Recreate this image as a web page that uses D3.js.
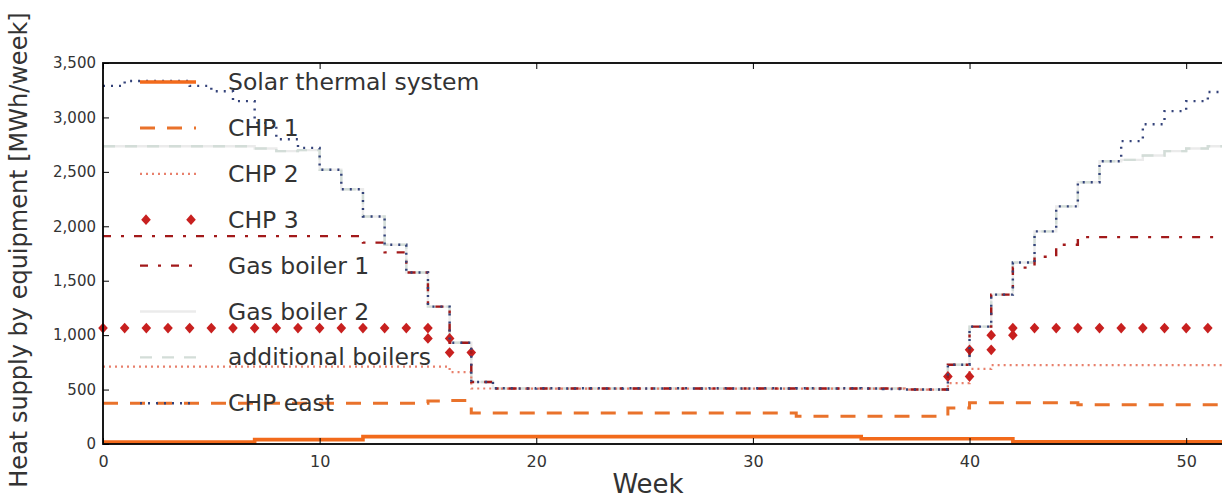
<!DOCTYPE html>
<html>
<head>
<meta charset="utf-8">
<script src="https://cdn.jsdelivr.net/npm/d3@7"></script>
<style>
  body { margin: 0; background: #fff; }
  svg { display: block; font-family: "DejaVu Sans", sans-serif; }
</style>
</head>
<body>
<svg id="chart"></svg>
<script>
const WIDTH = 1222;
const HEIGHT = 498;

// weeks 0..52, values are cumulative heat supply (MWh/week)
const weeks = d3.range(0, 53);
const seriesNames = ["Solar thermal system", "CHP 1", "CHP 2", "CHP 3",
  "Gas boiler 1", "Gas boiler 2", "additional boilers", "CHP east"];

const solar = [18, 18, 18, 18, 18, 18, 18, 40, 40, 40, 40, 40,
  68, 68, 68, 68, 68, 68, 68, 68, 68, 68, 68, 68, 68, 68, 68, 68, 68, 68, 68, 68, 68, 68, 68,
  48, 48, 48, 48, 48, 48, 48,
  20, 20, 20, 20, 20, 20, 20, 20, 20, 20, 20];
const chp1 = [375, 375, 375, 375, 375, 375, 375, 375, 375, 375, 375, 375, 375, 375, 375, 395, 400,
  285, 285, 285, 285, 285, 285, 285, 285, 285, 285, 285, 285, 285, 285, 285,
  255, 255, 255, 255, 255, 255, 255,
  330, 380, 380, 380, 380, 380,
  360, 360, 360, 360, 360, 360, 360, 360];
const chp2 = [710, 710, 710, 710, 710, 710, 710, 710, 710, 710, 710, 710, 710, 710, 710, 710, 660,
  510, 508, 508, 508, 508, 508, 508, 508, 508, 508, 508, 508, 508, 508, 508, 508, 508, 508, 508, 508, 500, 500,
  560, 690,
  725, 725, 725, 725, 725, 725, 725, 725, 725, 725, 725, 725];
const chp3 = [1065, 1065, 1065, 1065, 1065, 1065, 1065, 1065, 1065, 1065, 1065, 1065, 1065, 1065, 1065, 970, 840,
  510, 508, 508, 508, 508, 508, 508, 508, 508, 508, 508, 508, 508, 508, 508, 508, 508, 508, 508, 508, 500, 500,
  620, 865, 1000,
  1065, 1065, 1065, 1065, 1065, 1065, 1065, 1065, 1065, 1065, 1065];
const gasBoiler1 = [1910, 1910, 1910, 1910, 1910, 1910, 1910, 1910, 1910, 1910, 1910, 1910, 1850, 1760,
  1575, 1262, 930, 570,
  510, 510, 510, 510, 510, 510, 510, 510, 510, 510, 510, 510, 510, 510, 510, 510, 510, 510, 510, 500, 500,
  728, 1078, 1372, 1620, 1720, 1830,
  1900, 1900, 1900, 1900, 1900, 1900, 1900, 1900];
const gasBoiler2 = [2735, 2735, 2735, 2735, 2735, 2735, 2735, 2715, 2690, 2700, 2520, 2340, 2090, 1830,
  1575, 1262, 930, 570,
  510, 510, 510, 510, 510, 510, 510, 510, 510, 510, 510, 510, 510, 510, 510, 510, 510, 510, 510, 500, 500,
  728, 1078, 1372, 1667, 1953, 2183, 2404, 2597,
  2610, 2650, 2690, 2715, 2735, 2735];
const additionalBoilers = [2735, 2735, 2735, 2735, 2735, 2735, 2735, 2715, 2690, 2700, 2520, 2340, 2090, 1830,
  1575, 1262, 930, 570,
  510, 510, 510, 510, 510, 510, 510, 510, 510, 510, 510, 510, 510, 510, 510, 510, 510, 510, 510, 500, 500,
  728, 1078, 1372, 1667, 1953, 2183, 2404, 2597,
  2610, 2650, 2690, 2715, 2735, 2735];
const chpEast = [3290, 3335, 3335, 3335, 3290, 3240, 3150, 2950, 2800, 2720, 2520, 2340, 2090, 1830,
  1575, 1262, 930, 570,
  512, 510, 512, 510, 512, 510, 512, 510, 512, 510, 512, 510, 512, 510, 512, 510, 512, 510, 505, 500, 500,
  728, 1078, 1372, 1667, 1953, 2183, 2404, 2597, 2782, 2938, 3058, 3150, 3233, 3233];

const xTicks = [0, 10, 20, 30, 40, 50];
const yTicks = [0, 500, 1000, 1500, 2000, 2500, 3000, 3500];

const styles = [
  { color: "#f26a1b", width: 3.6, dash: null },
  { color: "#e9722b", width: 3, dash: "15,12" },
  { color: "#e8806c", width: 2.2, dash: "2,4" },
  { color: "#c8201f", width: 0, dash: null, marker: true },
  { color: "#a2191a", width: 2.4, dash: "8,10,3,10" },
  { color: "#ebebeb", width: 2.4, dash: null },
  { color: "#d3ddd8", width: 2.4, dash: "12,10" },
  { color: "#34437a", width: 2.4, dash: "2,6" }
];
const allSeries = [solar, chp1, chp2, chp3, gasBoiler1, gasBoiler2, additionalBoilers, chpEast];
// pale boiler lines go underneath so the coloured dots show through in summer
const drawOrder = [5, 6, 0, 1, 2, 3, 4, 7];

const margin = { left: 103, top: 63, bottom: 444 };
const x = d3.scaleLinear().domain([0, 52]).range([margin.left, 1229.5]);
const y = d3.scaleLinear().domain([0, 3500]).range([margin.bottom, margin.top]);

const svg = d3.select("#chart").attr("width", WIDTH).attr("height", HEIGHT);

const line = d3.line()
  .x((d, i) => x(weeks[i]))
  .y(d => y(d))
  .curve(d3.curveStepAfter);

const diamond = "M0,-5.4L4.8,0L0,5.4L-4.8,0Z";
const plot = svg.append("g");

drawOrder.forEach(k => {
  const values = allSeries[k];
  const s = styles[k];
  if (s.marker) {
    // markers only where CHP 3 actually adds to the stack
    const pts = [];
    values.forEach((v, i) => {
      if (i > 0 && values[i - 1] !== v && values[i - 1] > chp2[i - 1]) pts.push([weeks[i], values[i - 1]]);
      if (v > chp2[i]) pts.push([weeks[i], v]);
    });
    plot.append("g").selectAll("path").data(pts).enter().append("path")
      .attr("d", diamond)
      .attr("transform", d => `translate(${x(d[0])},${y(d[1])})`)
      .attr("fill", s.color);
  } else {
    plot.append("path")
      .datum(values)
      .attr("d", line)
      .attr("fill", "none")
      .attr("stroke", s.color)
      .attr("stroke-width", s.width)
      .attr("stroke-dasharray", s.dash);
  }
});

// axes frame
const axes = svg.append("g");
axes.append("rect")
  .attr("x", margin.left).attr("y", margin.top)
  .attr("width", 1229.5 - margin.left).attr("height", margin.bottom - margin.top)
  .attr("fill", "none").attr("stroke", "#000").attr("stroke-width", 1.8);

const bottomAxis = d3.axisBottom(x).tickValues(xTicks).tickSizeInner(-6).tickSizeOuter(0).tickPadding(12);
const leftAxis = d3.axisLeft(y).tickValues(yTicks).tickSizeInner(-6).tickSizeOuter(0).tickPadding(7)
  .tickFormat(d3.format(","));
const topAxis = d3.axisTop(x).tickValues(xTicks).tickSizeInner(-6).tickSizeOuter(0).tickFormat("");

function styleAxis(g, size) {
  g.select(".domain").remove();
  g.selectAll(".tick line").attr("stroke", "#000");
  g.selectAll(".tick text").attr("fill", "#333").style("font-size", size)
    .style("font-family", "DejaVu Sans, sans-serif");
}
axes.append("g").attr("transform", `translate(0,${margin.bottom})`).call(bottomAxis).call(styleAxis, "16px");
axes.append("g").attr("transform", `translate(${margin.left},0)`).call(leftAxis).call(styleAxis, "15px");
axes.append("g").attr("transform", `translate(0,${margin.top})`).call(topAxis).call(styleAxis, "15px");

// legend (no frame, drawn over the lines)
const legend = svg.append("g");
seriesNames.forEach((name, k) => {
  const cy = 82 + k * 45.9;
  const s = styles[k];
  if (s.marker) {
    [146, 191].forEach(px => legend.append("path")
      .attr("d", diamond)
      .attr("transform", `translate(${px},${cy})`)
      .attr("fill", s.color));
  } else {
    legend.append("line")
      .attr("x1", 140).attr("x2", 196).attr("y1", cy).attr("y2", cy)
      .attr("stroke", s.color).attr("stroke-width", s.width)
      .attr("stroke-dasharray", s.dash);
  }
  legend.append("text")
    .attr("x", 228).attr("y", cy + 8)
    .attr("fill", "#333")
    .style("font-size", "23.5px")
    .text(name);
});

// axis titles
svg.append("text")
  .attr("transform", `translate(27,250) rotate(-90)`)
  .attr("text-anchor", "middle")
  .attr("fill", "#333")
  .style("font-size", "24px")
  .text("Heat supply by equipment [MWh/week]");

svg.append("text")
  .attr("x", 648).attr("y", 493)
  .attr("text-anchor", "middle")
  .attr("fill", "#333")
  .style("font-size", "26px")
  .text("Week");
</script>
</body>
</html>
